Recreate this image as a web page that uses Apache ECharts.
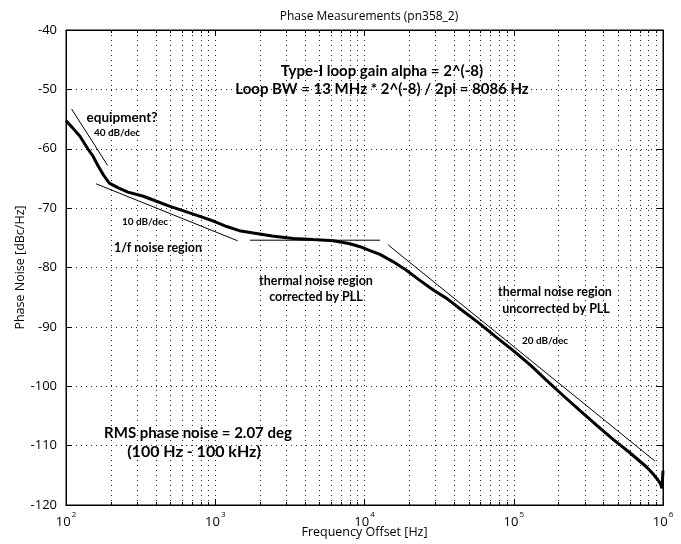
<!DOCTYPE html>
<html>
<head>
<meta charset="utf-8">
<script src="https://cdn.jsdelivr.net/npm/echarts@6/dist/echarts.min.js"></script>
<style>html,body{margin:0;padding:0;background:#fff;}#chart{width:681px;height:544px;}</style>
</head>
<body>
<div id="chart"></div>
<script>
// Measured phase noise curve
const freqHz = [100, 110, 124, 140, 152, 165, 178, 195, 224, 260, 330, 400, 497, 620, 790, 1000, 1195, 1450, 1800, 2400, 3340, 4500, 6170, 8000, 9330, 11000, 12700, 15500, 19200, 23000, 28900, 35500, 45000, 59400, 77000, 99300, 130000, 166000, 215000, 278000, 360000, 465000, 600000, 776000, 860000, 920000, 960000, 985000, 1000000];
const phaseNoise = [-55.3, -56.4, -57.9, -60.0, -61.3, -63.0, -64.4, -65.8, -66.6, -67.3, -68.0, -68.8, -69.7, -70.5, -71.4, -72.3, -73.1, -73.8, -74.2, -74.7, -75.1, -75.3, -75.5, -76.0, -76.5, -77.2, -77.8, -79.0, -80.5, -82.0, -83.8, -85.2, -87.2, -89.5, -91.8, -94.0, -96.5, -99.0, -101.6, -104.1, -106.6, -109.0, -111.2, -113.6, -114.8, -115.7, -116.4, -117.2, -114.2];

// Slope reference lines: [freq, dB]
const slope40 = [[109, -53.3], [190, -62.8]];
const slope10 = [[159, -65.9], [1413, -75.5]];
const slope0 = [[1710, -75.4], [12700, -75.4]];
const slope20 = [[14420, -76.2], [883000, -112.6]];

// Axis ticks
const xMajorTicks = [100, 1000, 10000, 100000, 1000000];
const xMinorTicks = [200, 300, 400, 500, 600, 700, 800, 900,
  2000, 3000, 4000, 5000, 6000, 7000, 8000, 9000,
  20000, 30000, 40000, 50000, 60000, 70000, 80000, 90000,
  200000, 300000, 400000, 500000, 600000, 700000, 800000, 900000];
const yMin = -120, yMax = -40, yStep = 10;

const FONT = '"Open Sans", "DejaVu Sans", sans-serif';
const NOTE_FONT = 'Lato, "Open Sans", sans-serif';
const gridLine = { show: true, lineStyle: { color: '#222', width: 1, type: [1, 4] } };

function zipPairs(xs, ys) { return xs.map((x, i) => [x, ys[i]]); }

const chart = echarts.init(document.getElementById('chart'));

function xAxisDef(pos, ticks, len, showLabel, split) {
  return {
    type: 'log', logBase: 10, min: 100, max: 1000000, position: pos, gridIndex: 0,
    axisLine: { show: true, onZero: false, lineStyle: { color: '#000', width: 1 } },
    axisTick: { show: true, inside: true, length: len, customValues: ticks, lineStyle: { color: '#000' } },
    axisLabel: showLabel ? {
      show: true, customValues: ticks, margin: 6,
      formatter: v => '{b|10}{s|' + Math.round(Math.log10(v)) + '}',
      rich: {
        b: { fontSize: 13, fontFamily: FONT, color: '#000', lineHeight: 18, verticalAlign: 'bottom' },
        s: { fontSize: 8, fontFamily: FONT, color: '#000', lineHeight: 18, verticalAlign: 'top', padding: [0, 0, 0, 1] }
      }
    } : { show: false },
    splitLine: split ? gridLine : { show: false },
    minorTick: { show: false }
  };
}

const textEl = (txt, x, y, size) => ({
  type: 'text', x: x, y: y, z: 100,
  style: { text: txt, fontSize: size, fontFamily: NOTE_FONT, fontWeight: 'bold', fill: '#000', align: 'center', verticalAlign: 'middle' }
});

const option = {
  backgroundColor: '#fff',
  animation: false,
  title: {
    text: 'Phase Measurements (pn358_2)', left: 364, top: 6, textAlign: 'center',
    textStyle: { fontSize: 12, fontWeight: 'normal', fontFamily: FONT, color: '#000' }
  },
  grid: { left: 66, right: 18, top: 30, bottom: 39, show: true, borderColor: '#000', borderWidth: 1, containLabel: false, outerBoundsMode: 'none' },
  xAxis: [
    Object.assign(xAxisDef('bottom', xMajorTicks, 6, true, true), {
      name: 'Frequency Offset [Hz]', nameLocation: 'middle', nameGap: 21, nameMoveOverlap: false,
      nameTextStyle: { fontSize: 12.5, fontFamily: FONT, color: '#000' }
    }),
    xAxisDef('bottom', xMinorTicks, 3, false, true),
    xAxisDef('top', xMajorTicks, 6, false, false),
    xAxisDef('top', xMinorTicks, 3, false, false)
  ],
  yAxis: [
    {
      type: 'value', min: yMin, max: yMax, interval: yStep, position: 'left',
      name: 'Phase Noise [dBc/Hz]', nameLocation: 'middle', nameGap: 39, nameRotate: 90, nameMoveOverlap: false,
      nameTextStyle: { fontSize: 12.5, fontFamily: FONT, color: '#000' },
      axisLine: { show: true, lineStyle: { color: '#000' } },
      axisTick: { show: true, inside: true, length: 6, lineStyle: { color: '#000' } },
      axisLabel: { fontSize: 13, fontFamily: FONT, color: '#000', margin: 9 },
      splitLine: gridLine
    },
    {
      type: 'value', min: yMin, max: yMax, interval: yStep, position: 'right',
      axisLine: { show: true, lineStyle: { color: '#000' } },
      axisTick: { show: true, inside: true, length: 6, lineStyle: { color: '#000' } },
      axisLabel: { show: false }, splitLine: { show: false }
    }
  ],
  series: [
    { type: 'line', data: zipPairs(freqHz, phaseNoise), showSymbol: false, symbol: 'none',
      lineStyle: { color: '#000', width: 3 }, z: 10 },
    { type: 'line', data: slope40, symbol: 'none', lineStyle: { color: '#000', width: 1 } },
    { type: 'line', data: slope10, symbol: 'none', lineStyle: { color: '#000', width: 1 } },
    { type: 'line', data: slope0, symbol: 'none', lineStyle: { color: '#000', width: 1 } },
    { type: 'line', data: slope20, symbol: 'none', lineStyle: { color: '#000', width: 1 } }
  ],
  graphic: [
    textEl('Type-I loop gain alpha = 2^(-8)', 382, 71, 15),
    textEl('Loop BW = 13 MHz * 2^(-8) / 2pi = 8086 Hz', 382, 89, 15),
    textEl('equipment?', 122, 118, 13.5),
    textEl('40 dB/dec', 117, 133, 10),
    textEl('10 dB/dec', 145, 222, 10),
    textEl('1/f noise region', 158, 248, 12.5),
    textEl('thermal noise region', 316, 281, 12.5),
    textEl('corrected by PLL', 316, 297, 12.5),
    textEl('thermal noise region', 555, 292, 12.5),
    textEl('uncorrected by PLL', 556, 309, 12.5),
    textEl('20 dB/dec', 545, 341, 10),
    textEl('RMS phase noise = 2.07 deg', 198, 433, 15),
    textEl('(100 Hz - 100 kHz)', 194, 452, 16)
  ]
};
chart.setOption(option);
</script>
</body>
</html>
